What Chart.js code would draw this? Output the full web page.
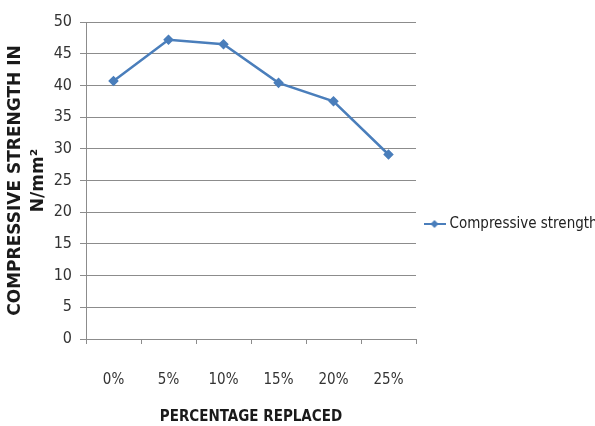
<!DOCTYPE html>
<html>
<head>
<meta charset="utf-8">
<script src="https://cdn.jsdelivr.net/npm/chart.js@4/dist/chart.umd.min.js"></script>
<style>
  html, body { margin: 0; padding: 0; background: #ffffff; }
  #wrap { width: 595px; height: 426px; position: relative; }
</style>
</head>
<body>
<div id="wrap"><canvas id="c" width="595" height="426"></canvas></div>
<script>
// Percentage of material replaced and the resulting compressive strength
const categories = ['0%', '5%', '10%', '15%', '20%', '25%'];
const strengthValues = [40.7, 47.2, 46.5, 40.4, 37.5, 29.1];
const seriesName = 'Compressive strength';
const yTicks = [0, 5, 10, 15, 20, 25, 30, 35, 40, 45, 50];

const lineColor = '#4A7EBB';
const gridColor = '#8c8c8c';
const narrowFont = "'DejaVu Sans Condensed', sans-serif";
const boldFont = "'DejaVu Sans', sans-serif";

// Legend symbol: a short line with a diamond in the middle
function legendSymbol() {
  const cv = document.createElement('canvas');
  cv.width = 22; cv.height = 10;
  const g = cv.getContext('2d');
  g.strokeStyle = lineColor; g.lineWidth = 2;
  g.beginPath(); g.moveTo(0, 5); g.lineTo(22, 5); g.stroke();
  g.fillStyle = lineColor;
  g.beginPath(); g.moveTo(11, 1); g.lineTo(15, 5); g.lineTo(11, 9); g.lineTo(7, 5); g.closePath(); g.fill();
  return cv;
}

// Keep the legend column a fixed width so the plot ends at the same place
const legendWidth = {
  id: 'legendWidth',
  afterInit(chart) {
    const lg = chart.legend;
    if (!lg) return;
    const fit = lg.fit.bind(lg);
    lg.fit = function () { fit(); this.width = 179; this.maxWidth = 179; };
  }
};

new Chart(document.getElementById('c'), {
  type: 'line',
  data: {
    labels: categories,
    datasets: [{
      label: seriesName,
      data: strengthValues,
      borderColor: lineColor,
      backgroundColor: lineColor,
      borderWidth: 2.5,
      pointStyle: 'rectRot',
      pointRadius: 3.5,
      pointBackgroundColor: lineColor,
      pointBorderColor: lineColor,
      tension: 0
    }]
  },
  plugins: [legendWidth],
  options: {
    responsive: false,
    animation: false,
    devicePixelRatio: 1,
    layout: { padding: { top: 22, left: 4, right: 0, bottom: 0 } },
    plugins: {
      tooltip: { enabled: false },
      legend: {
        position: 'right',
        labels: {
          usePointStyle: true,
          pointStyle: legendSymbol(),
          color: '#222',
          font: { family: narrowFont, size: 15 },
          padding: 11
        }
      }
    },
    scales: {
      x: {
        type: 'category',
        offset: true,
        grid: {
          offset: true,
          drawOnChartArea: false,
          drawTicks: true,
          tickLength: 5,
          color: gridColor
        },
        border: { color: gridColor, width: 1 },
        ticks: {
          color: '#333',
          font: { family: narrowFont, size: 15 },
          padding: 27,
          maxRotation: 0
        },
        title: {
          display: true,
          text: 'PERCENTAGE REPLACED',
          color: '#1a1a1a',
          font: { family: narrowFont, size: 15, weight: 'bold' },
          padding: { top: 10, bottom: 0 }
        },
        afterFit: (s) => { s.height = 87; }
      },
      y: {
        min: 0,
        max: 50,
        afterBuildTicks: (s) => { s.ticks = yTicks.map(v => ({ value: v })); },
        grid: {
          color: gridColor,
          tickLength: 6,
          drawTicks: true
        },
        border: { color: gridColor, width: 1 },
        ticks: {
          color: '#333',
          font: { family: narrowFont, size: 16 },
          padding: 8
        },
        title: {
          display: true,
          text: ['COMPRESSIVE STRENGTH IN', 'N/mm\u00B2'],
          color: '#1a1a1a',
          font: { family: boldFont, size: 17, weight: 'bold', lineHeight: 1.35 },
          padding: { top: 0, bottom: 0 }
        },
        afterFit: (s) => { s.width = 82; }
      }
    }
  }
});
</script>
</body>
</html>
